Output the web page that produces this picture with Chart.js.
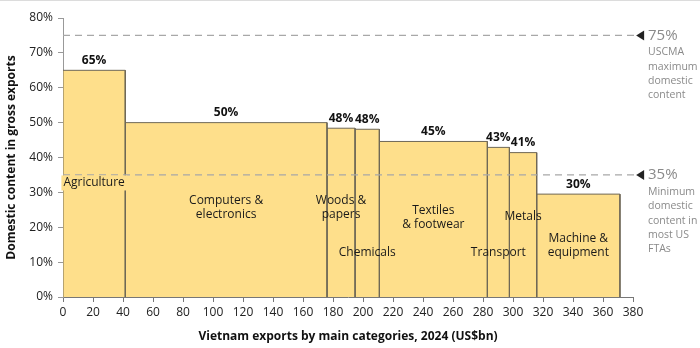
<!DOCTYPE html>
<html>
<head>
<meta charset="utf-8">
<script src="https://cdn.jsdelivr.net/npm/chart.js@4.4.1/dist/chart.umd.min.js"></script>
<style>
  html, body { margin: 0; padding: 0; background: #fff; }
  #wrap { position: relative; width: 700px; height: 348px; box-sizing: border-box; border-top: 1px solid #dcdcdc; }
</style>
</head>
<body>
<div id="wrap"><canvas id="chart" width="700" height="347"></canvas></div>
<script>
// Vietnam exports by category (US$bn) and domestic content share (%)
const CATEGORIES = ["Agriculture", "Computers & electronics", "Woods & papers", "Chemicals",
  "Textiles & footwear", "Transport", "Metals", "Machine & equipment"];
const EXPORTS_BN = [41.5, 134.5, 18.7, 16.2, 72.0, 14.7, 18.2, 55.5];
const DOMESTIC_PCT = [65, 50, 48.4, 48.1, 44.6, 42.9, 41.4, 29.5];
const VALUE_LABELS = ["65%", "50%", "48%", "48%", "45%", "43%", "41%", "30%"];
const CATEGORY_LINES = [
  ["Agriculture"], ["Computers &", "electronics"], ["Woods &", "papers"], ["Chemicals"],
  ["Textiles", "& footwear"], ["Transport"], ["Metals"], ["Machine &", "equipment"],
];
const REF_LEVELS = [75, 35];
const REF_LABELS = ["75%", "35%"];
const REF_NOTES = [
  ["USCMA", "maximum", "domestic", "content"],
  ["Minimum", "domestic", "content in", "most US", "FTAs"],
];
const X_TICK_STEP = 20;
const Y_TICK_STEP = 10;

// vertical position (in %) of each category label inside its bar
const LABEL_Y = [32.7, 25.5, 25.5, 12.7, 22.7, 12.7, 23.0, 14.7];

const FONT = "'Open Sans', 'Noto Sans', sans-serif";
const BAR_FILL = "#fedf8b";
const BAR_EDGE = "#6f6857";
const REF_COLOR = "#a8a8a8";
const REF_END = 381.3;     // dashed line runs a bit past the axis
const REF_MARK_X = 385.1;
const REF_TEXT_X = 390;

function barEdges() {
  const edges = [];
  let x = 0;
  EXPORTS_BN.forEach(w => { edges.push([x, x + w]); x += w; });
  return edges;
}

function buildDatasets() {
  const edges = barEdges();
  const refs = REF_LEVELS.map(level => ({
    type: "scatter",
    data: [{ x: 0, y: level }, { x: REF_END, y: level }],
    showLine: true,
    borderColor: REF_COLOR,
    borderWidth: 1.3,
    borderDash: [7, 5],
    pointRadius: 0,
    fill: false,
    clip: false,
  }));
  const bars = DOMESTIC_PCT.map((v, i) => ({
    type: "scatter",
    label: CATEGORIES[i],
    data: [
      { x: edges[i][0], y: 0 }, { x: edges[i][0], y: v },
      { x: edges[i][1], y: v }, { x: edges[i][1], y: 0 },
    ],
    showLine: true,
    tension: 0,
    fill: "origin",
    backgroundColor: BAR_FILL,
    borderColor: BAR_EDGE,
    borderWidth: 1,
    pointRadius: 0,
  }));
  return refs.concat(bars);
}

const labelPlugin = {
  id: "labels",
  afterDatasetsDraw(chart) {
    const { ctx, scales: { x, y } } = chart;
    const edges = barEdges();
    ctx.save();
    ctx.textAlign = "center";
    ctx.textBaseline = "middle";

    // percentage above each bar
    ctx.font = "bold 12px " + FONT;
    ctx.fillStyle = "#111";
    DOMESTIC_PCT.forEach((v, i) => {
      const cx = x.getPixelForValue((edges[i][0] + edges[i][1]) / 2);
      ctx.fillText(VALUE_LABELS[i], cx, y.getPixelForValue(v) - 10);
    });

    // category names inside the bars
    ctx.font = "12px " + FONT;
    CATEGORY_LINES.forEach((lines, i) => {
      const cx = x.getPixelForValue((edges[i][0] + edges[i][1]) / 2);
      const cy = y.getPixelForValue(LABEL_Y[i]);
      const lh = 14;
      const top = cy - (lines.length - 1) * lh / 2;
      if (i === 0) {
        const w = ctx.measureText(lines[0]).width + 4;
        ctx.fillStyle = BAR_FILL;
        ctx.fillRect(cx - w / 2, cy - 7.5, w, 15);
      }
      ctx.fillStyle = "#1a1a1a";
      lines.forEach((t, k) => ctx.fillText(t, cx, top + k * lh));
    });

    // arrow heads and notes on the right for the reference lines
    ctx.textAlign = "left";
    REF_LEVELS.forEach((level, i) => {
      const mx = x.getPixelForValue(REF_MARK_X);
      const ly = y.getPixelForValue(level);
      ctx.fillStyle = "#222";
      ctx.beginPath();
      ctx.moveTo(mx - 4.5, ly);
      ctx.lineTo(mx + 3.5, ly - 5);
      ctx.lineTo(mx + 3.5, ly + 5);
      ctx.closePath();
      ctx.fill();

      const lx = x.getPixelForValue(REF_TEXT_X);
      ctx.fillStyle = "#8a8a8a";
      ctx.font = "15px " + FONT;
      ctx.fillText(REF_LABELS[i], lx, ly);
      ctx.font = "10.5px " + FONT;
      REF_NOTES[i].forEach((t, k) => ctx.fillText(t, lx, ly + 17 + k * 14.3));
    });
    ctx.restore();
  }
};

const xTicks = [];
for (let v = 0; v <= 380; v += X_TICK_STEP) xTicks.push(v);

new Chart(document.getElementById("chart"), {
  type: "scatter",
  data: { datasets: buildDatasets() },
  options: {
    responsive: false,
    animation: false,
    layout: { padding: { top: 17, right: 67, left: 0, bottom: 0 } },
    plugins: { legend: { display: false }, tooltip: { enabled: false } },
    scales: {
      x: {
        type: "linear",
        min: 0, max: 380,
        afterBuildTicks: s => { s.ticks = xTicks.map(v => ({ value: v })); },
        afterFit: s => { s.height = 51; },
        ticks: { color: "#222", font: { family: FONT, size: 12 }, padding: 3, maxRotation: 0 },
        grid: { drawOnChartArea: false, tickLength: 5, color: "#777" },
        border: { color: "#777" },
        title: {
          display: true,
          text: "Vietnam exports by main categories, 2024 (US$bn)",
          color: "#111",
          font: { family: FONT, size: 12, weight: "bold" },
          padding: { top: 8 },
        },
      },
      y: {
        min: 0, max: 80,
        afterFit: s => { s.width = 63; },
        ticks: {
          stepSize: Y_TICK_STEP,
          color: "#222",
          font: { family: FONT, size: 12 },
          padding: 5,
          callback: v => v + "%",
        },
        grid: { drawOnChartArea: false, tickLength: 5, color: "#999" },
        border: { color: "#999" },
        title: {
          display: true,
          text: "Domestic content in gross exports",
          color: "#111",
          font: { family: FONT, size: 12, weight: "bold" },
          padding: { bottom: 0 },
        },
      },
    },
  },
  plugins: [labelPlugin],
});
</script>
</body>
</html>
